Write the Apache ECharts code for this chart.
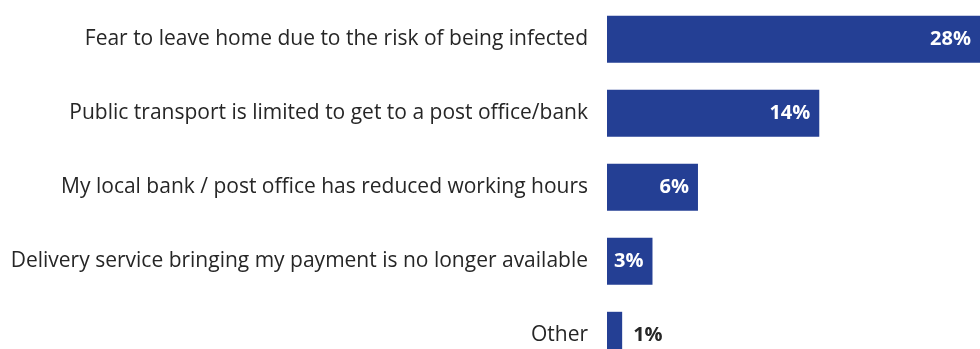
<!DOCTYPE html>
<html>
<head>
<meta charset="utf-8">
<script src="https://cdn.jsdelivr.net/npm/echarts@6/dist/echarts.min.js"></script>
<style>html,body{margin:0;padding:0;background:#fff}#c{width:980px;height:349px}</style>
</head>
<body>
<div id="c"></div>
<script>
const categories = [
  "Fear to leave home due to the risk of being infected",
  "Public transport is limited to get to a post office/bank",
  "My local bank / post office has reduced working hours",
  "Delivery service bringing my payment is no longer available",
  "Other"
];
const values = [28, 14, 6, 3, 1];
const valueLabels = ["28%", "14%", "6%", "3%", "1%"];

const chart = echarts.init(document.getElementById('c'), null, {renderer: 'canvas'});
const data = values.map((v, i) => {
  const item = {value: v};
  if (v < 2) {
    item.label = {position: 'right', color: '#262626', distance: 11};
  }
  return item;
});
chart.setOption({
  animation: false,
  grid: {left: 607, right: 0, top: 2.3, height: 370, containLabel: false, outerBoundsMode: 'none'},
  xAxis: {type: 'value', min: 0, max: 24.6, show: false},
  yAxis: {
    type: 'category', data: categories, inverse: true,
    axisLine: {show: false}, axisTick: {show: false},
    axisLabel: {fontFamily: 'Open Sans', fontSize: 21, color: '#262626', margin: 19}
  },
  series: [{
    type: 'bar', data: data, barWidth: 47,
    itemStyle: {color: '#243F94'},
    label: {
      show: true, position: 'insideRight', distance: 9,
      color: '#ffffff', fontFamily: 'Open Sans', fontWeight: 'bold', fontSize: 20,
      formatter: p => valueLabels[p.dataIndex]
    }
  }]
});
</script>
</body>
</html>
